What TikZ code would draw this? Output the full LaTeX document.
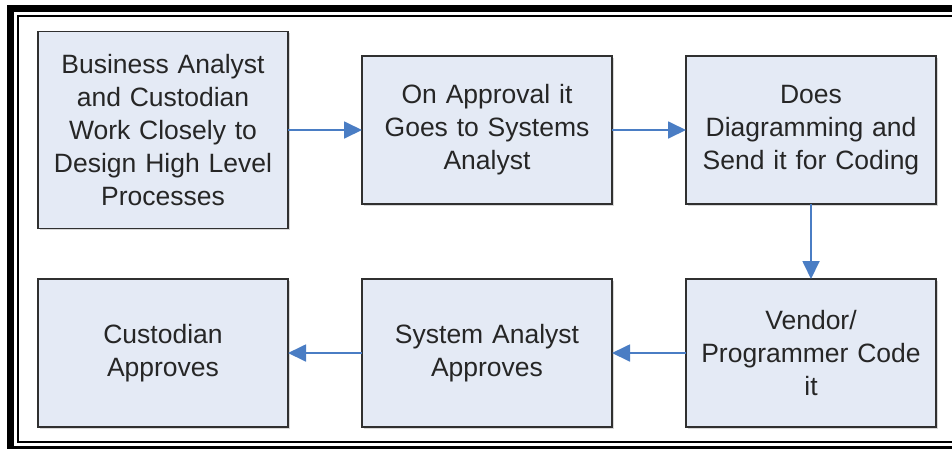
\documentclass[tikz,border=0pt]{standalone}
\usepackage{fontspec}
\setmainfont{Liberation Sans}
\usetikzlibrary{positioning,arrows.meta,shadows}
\definecolor{boxfill}{HTML}{E4EAF5}
\definecolor{boxline}{HTML}{303030}
\definecolor{flowblue}{HTML}{4A7DC4}
\begin{document}
\begin{tikzpicture}[
  stage/.style={draw=boxline, line width=1.6pt, fill=boxfill, align=center, text width=240pt, inner xsep=5pt, inner ysep=0pt, outer sep=0pt, minimum width=250pt, minimum height=148pt, text=black!85, font=\fontsize{26.5}{33}\selectfont, drop shadow={shadow xshift=1.6pt, shadow yshift=-1.6pt, fill=black!30}},
  flow/.style={draw=flowblue, line width=1.8pt, -{Triangle[length=18pt,width=17pt]}}]
\useasboundingbox (0,0) rectangle (952pt,-448pt);
\fill[white] (0,0) rectangle (952pt,-448pt);
% double frame
\draw[line width=7pt] (10.5pt,-8pt) rectangle (975pt,-449pt);
\draw[line width=2pt] (17.5pt,-15.5pt) rectangle (965pt,-442pt);
\node [stage, minimum height=197pt] (BA) at (163pt,-130pt) {Business Analyst\\ and Custodian\\ Work Closely to\\ Design High Level\\ Processes};
\node [stage] (SA) [right=74pt of BA] {On Approval it\\ Goes to Systems\\ Analyst};
\node [stage] (DG) [right=74pt of SA] {Does\\ Diagramming and\\ Send it for Coding};
\node [stage] (VP) [below=75pt of DG] {Vendor/\\ Programmer Code\\ it};
\node [stage] (SAA) [left=74pt of VP] {System Analyst\\ Approves};
\node [stage] (CA) [left=74pt of SAA] {Custodian\\ Approves};
\draw [flow] (BA) -- (SA);
\draw [flow] (SA) -- (DG);
\draw [flow] (DG) -- (VP);
\draw [flow] (VP) -- (SAA);
\draw [flow] (SAA) -- (CA);
\end{tikzpicture}
\end{document}
